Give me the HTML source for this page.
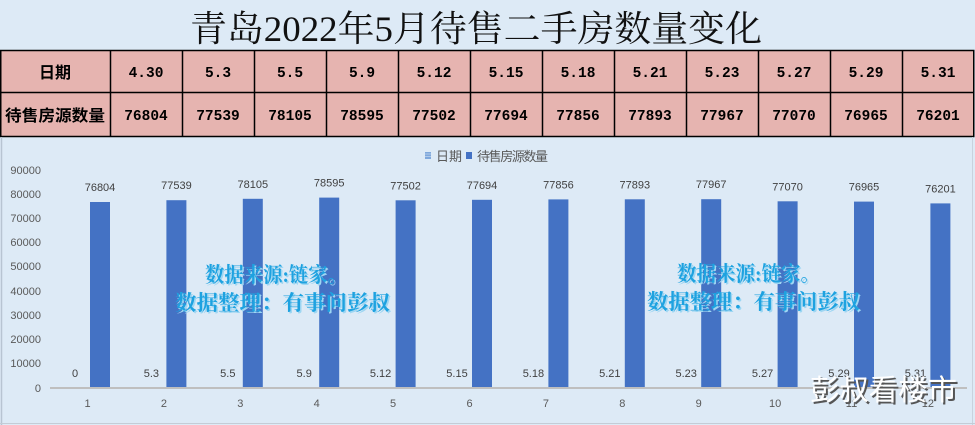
<!DOCTYPE html>
<html><head><meta charset="utf-8"><style>
html,body{margin:0;padding:0;background:#ddeaf6;}
svg{display:block;}
</style></head><body>
<svg width="975" height="425" viewBox="0 0 975 425" xmlns="http://www.w3.org/2000/svg">
<rect x="0" y="0" width="975" height="425" fill="#ddeaf6"/>
<!-- title -->
<text x="476" y="41" text-anchor="middle" font-family="'Liberation Serif','Noto Serif CJK SC',serif" font-size="36" fill="#111" textLength="572" lengthAdjust="spacingAndGlyphs">青岛2022年5月待售二手房数量变化</text>
<!-- table -->
<rect x="0.75" y="50.5" width="973" height="86" fill="#e6b4b0" stroke="#000" stroke-width="1.5"/>
<line x1="0" y1="92.5" x2="974" y2="92.5" stroke="#000" stroke-width="1.5"/>
<g stroke="#000" stroke-width="1.5">
<line x1="110.5" y1="50" x2="110.5" y2="137"/><line x1="182.5" y1="50" x2="182.5" y2="137"/>
<line x1="254.5" y1="50" x2="254.5" y2="137"/><line x1="326.5" y1="50" x2="326.5" y2="137"/>
<line x1="398.5" y1="50" x2="398.5" y2="137"/><line x1="470.5" y1="50" x2="470.5" y2="137"/>
<line x1="542.5" y1="50" x2="542.5" y2="137"/><line x1="614.5" y1="50" x2="614.5" y2="137"/>
<line x1="686.5" y1="50" x2="686.5" y2="137"/><line x1="758.5" y1="50" x2="758.5" y2="137"/>
<line x1="830.5" y1="50" x2="830.5" y2="137"/><line x1="902.5" y1="50" x2="902.5" y2="137"/>
</g>
<g font-family="'Liberation Sans','Noto Sans CJK SC',sans-serif" font-weight="bold" font-size="16" fill="#000" text-anchor="middle">
<text x="55" y="78">日期</text>
<text x="55" y="121" textLength="100" lengthAdjust="spacingAndGlyphs">待售房源数量</text>
</g>
<g font-family="'Liberation Mono',monospace" font-weight="bold" font-size="14.5" fill="#000" text-anchor="middle">
<text x="146" y="77">4.30</text><text x="218" y="77">5.3</text><text x="290" y="77">5.5</text><text x="362" y="77">5.9</text>
<text x="434" y="77">5.12</text><text x="506" y="77">5.15</text><text x="578" y="77">5.18</text><text x="650" y="77">5.21</text>
<text x="722" y="77">5.23</text><text x="794" y="77">5.27</text><text x="866" y="77">5.29</text><text x="938" y="77">5.31</text>
<text x="146" y="120">76804</text><text x="218" y="120">77539</text><text x="290" y="120">78105</text><text x="362" y="120">78595</text>
<text x="434" y="120">77502</text><text x="506" y="120">77694</text><text x="578" y="120">77856</text><text x="650" y="120">77893</text>
<text x="722" y="120">77967</text><text x="794" y="120">77070</text><text x="866" y="120">76965</text><text x="938" y="120">76201</text>
</g>
<!-- chart frame -->
<line x1="1.5" y1="137" x2="1.5" y2="425" stroke="#b8c4d2" stroke-width="1.5"/>
<line x1="972.5" y1="137" x2="972.5" y2="425" stroke="#c8d2de" stroke-width="1"/>
<line x1="0" y1="423.5" x2="975" y2="423.5" stroke="#c4ccd6" stroke-width="1"/>
<!-- legend -->
<rect x="425" y="152" width="6" height="7" fill="#7fa8dc"/>
<line x1="425" y1="154" x2="431" y2="154" stroke="#c8d8ee" stroke-width="0.7"/>
<line x1="425" y1="156.5" x2="431" y2="156.5" stroke="#c8d8ee" stroke-width="0.7"/>
<rect x="466" y="152" width="6" height="7" fill="#4472c4"/>
<g font-family="'Liberation Sans','Noto Sans CJK SC',sans-serif" font-size="13" fill="#595959">
<text x="436" y="161">日期</text>
<text x="477" y="161" textLength="71">待售房源数量</text>
</g>
<!-- y axis labels -->
<g font-family="'Liberation Sans',sans-serif" font-size="11" fill="#595959" text-anchor="end">
<text x="41" y="174">90000</text><text x="41" y="198">80000</text><text x="41" y="222">70000</text>
<text x="41" y="246">60000</text><text x="41" y="270">50000</text><text x="41" y="295">40000</text>
<text x="41" y="319">30000</text><text x="41" y="343">20000</text><text x="41" y="367">10000</text>
<text x="41" y="392">0</text>
</g>
<!-- bars -->
<g fill="#4472c4">
<rect x="90" y="202" width="20" height="186"/>
<rect x="166.4" y="200.2" width="20" height="187.8"/>
<rect x="242.8" y="198.8" width="20" height="189.2"/>
<rect x="319.2" y="197.6" width="20" height="190.4"/>
<rect x="395.6" y="200.3" width="20" height="187.7"/>
<rect x="472" y="199.8" width="20" height="188.2"/>
<rect x="548.4" y="199.4" width="20" height="188.6"/>
<rect x="624.8" y="199.3" width="20" height="188.7"/>
<rect x="701.2" y="199.2" width="20" height="188.8"/>
<rect x="777.6" y="201.3" width="20" height="186.7"/>
<rect x="854" y="201.6" width="20" height="186.4"/>
<rect x="930.4" y="203.4" width="20" height="184.6"/>
</g>
<!-- axis -->
<line x1="50" y1="388" x2="967" y2="388" stroke="#bfbfbf" stroke-width="2"/>
<!-- value labels -->
<g font-family="'Liberation Sans',sans-serif" font-size="11" fill="#404040" text-anchor="middle">
<text x="100" y="191">76804</text><text x="176.4" y="189.2">77539</text><text x="252.8" y="187.8">78105</text>
<text x="329.2" y="186.6">78595</text><text x="405.6" y="189.3">77502</text><text x="482" y="188.8">77694</text>
<text x="558.4" y="188.4">77856</text><text x="634.8" y="188.3">77893</text><text x="711.2" y="188.2">77967</text>
<text x="787.6" y="190.3">77070</text><text x="864" y="190.6">76965</text><text x="940.4" y="192.4">76201</text>
<text x="75" y="377">0</text><text x="151.4" y="377">5.3</text><text x="227.8" y="377">5.5</text>
<text x="304.2" y="377">5.9</text><text x="380.6" y="377">5.12</text><text x="457" y="377">5.15</text>
<text x="533.4" y="377">5.18</text><text x="609.8" y="377">5.21</text><text x="686.2" y="377">5.23</text>
<text x="762.6" y="377">5.27</text><text x="839" y="377">5.29</text><text x="915.4" y="377">5.31</text>
</g>
<!-- x labels -->
<g font-family="'Liberation Sans',sans-serif" font-size="11" fill="#595959" text-anchor="middle">
<text x="87.5" y="407">1</text><text x="163.9" y="407">2</text><text x="240.3" y="407">3</text>
<text x="316.7" y="407">4</text><text x="393.1" y="407">5</text><text x="469.5" y="407">6</text>
<text x="545.9" y="407">7</text><text x="622.3" y="407">8</text><text x="698.7" y="407">9</text>
<text x="775.1" y="407">10</text><text x="851.5" y="407">11</text><text x="927.9" y="407">12</text>
</g>
<!-- watermarks -->
<g font-family="'Liberation Serif','Noto Serif CJK SC',serif" font-weight="bold" font-size="21">
<g fill="#9ed6f2" transform="translate(1.5,1.5)">
<text x="205" y="282" textLength="142" lengthAdjust="spacingAndGlyphs">数据来源:链家。</text>
<text x="175" y="310" textLength="215" lengthAdjust="spacingAndGlyphs">数据整理：有事问彭叔</text>
<text x="677" y="281" textLength="143" lengthAdjust="spacingAndGlyphs">数据来源:链家。</text>
<text x="647" y="309" textLength="213" lengthAdjust="spacingAndGlyphs">数据整理：有事问彭叔</text>
</g>
<g fill="#1ea2e0">
<text x="205" y="282" textLength="142" lengthAdjust="spacingAndGlyphs">数据来源:链家。</text>
<text x="175" y="310" textLength="215" lengthAdjust="spacingAndGlyphs">数据整理：有事问彭叔</text>
<text x="677" y="281" textLength="143" lengthAdjust="spacingAndGlyphs">数据来源:链家。</text>
<text x="647" y="309" textLength="213" lengthAdjust="spacingAndGlyphs">数据整理：有事问彭叔</text>
</g>
</g>
<g font-family="'Liberation Sans','Noto Sans CJK SC',sans-serif" font-size="29">
<text x="812" y="402" fill="#555" textLength="147" lengthAdjust="spacingAndGlyphs">彭叔看楼市</text>
<text x="810" y="400" fill="#ffffff" textLength="147" lengthAdjust="spacingAndGlyphs">彭叔看楼市</text>
</g>
</svg>
</body></html>
